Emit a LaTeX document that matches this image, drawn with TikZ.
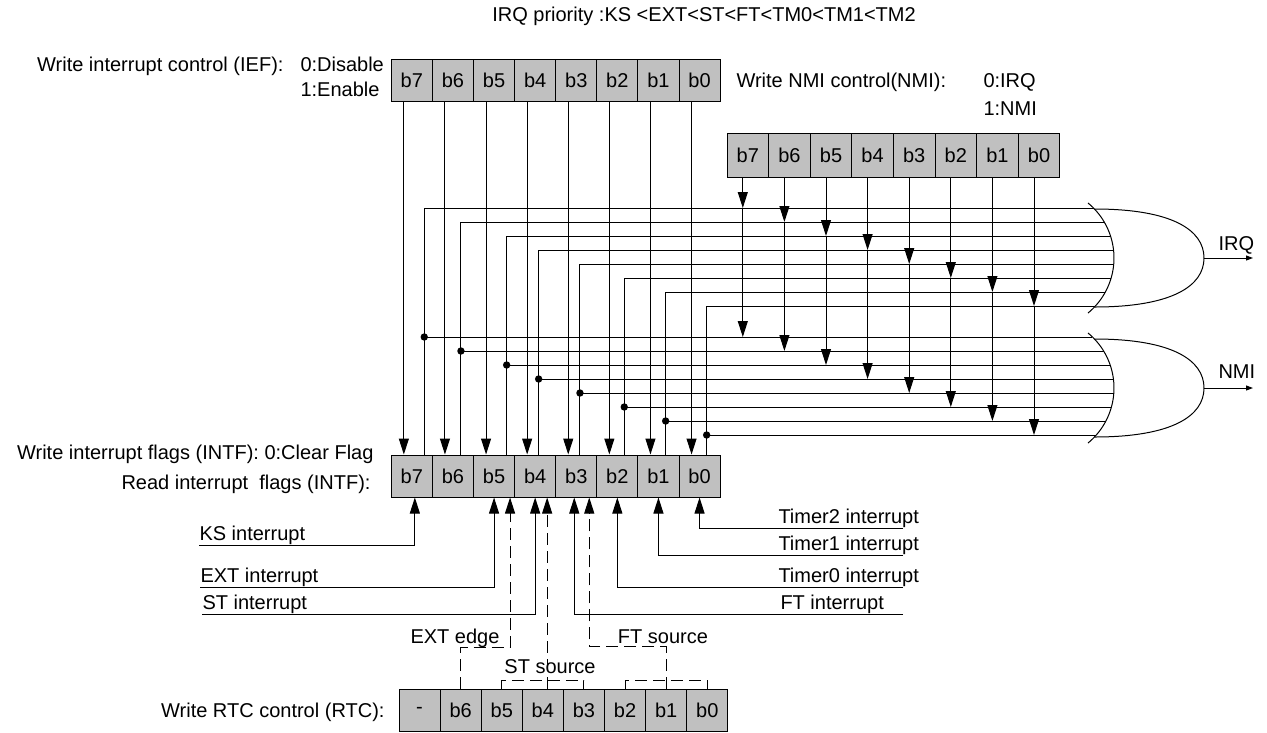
\documentclass[tikz,border=0pt]{standalone}
\usepackage{fontspec}
\setmainfont{Liberation Sans}
\usetikzlibrary{arrows.meta}
\definecolor{regfill}{RGB}{192,192,192}
\tikzstyle{regcell} = [rectangle, minimum width=41.1pt, minimum height=42pt, inner sep=0pt, text centered, draw=black, fill=regfill]
\tikzstyle{lbl} = [inner sep=0pt]
\tikzstyle{arrow} = [-{Triangle[length=16pt,width=10pt]}]
\tikzstyle{outarrow} = [-{Triangle[length=7pt,width=5pt]}]
\tikzstyle{bracket} = [dash pattern=on 12pt off 6pt]
\tikzstyle{dasharrow} = [arrow, bracket]

\begin{document}
\begin{tikzpicture}[x=1pt, y=-1pt, line width=1pt, font=\fontsize{20}{24}\selectfont]
    \useasboundingbox (0,0) rectangle (1267,732);

    \node (title) [lbl, anchor=base] at (704,21) {IRQ priority :KS <EXT<ST<FT<TM0<TM1<TM2};

    % registers
    \foreach \b [count=\i from 0] in {7,6,5,4,3,2,1,0} {
      \node (ief\b) [regcell] at ({391.3+41.1*(\i+0.5)},80) {b\b};
      \node (intf\b) [regcell] at ({391.3+41.1*(\i+0.5)},476) {b\b};
      \node (nmi\b) [regcell, minimum width=41.6pt, minimum height=44pt] at ({727+41.6*(\i+0.5)},155) {b\b};
    }
    \foreach \b/\t [count=\i from 0] in {7/-,6/b6,5/b5,4/b4,3/b3,2/b2,1/b1,0/b0}
      \node (rtc\b) [regcell] at ({399+41.1*(\i+0.5)},710) {\t};

    \node (ieflbl) [lbl, anchor=base east] at (284,71) {Write interrupt control (IEF):};
    \node (iefdis) [lbl, anchor=base west] at (300,71) {0:Disable};
    \node (iefen) [lbl, anchor=base west] at (300,96) {1:Enable};
    \node (nmilbl) [lbl, anchor=base west] at (736,87) {Write NMI control(NMI):};
    \node (nmiirq) [lbl, anchor=base west] at (983,87) {0:IRQ};
    \node (nminmi) [lbl, anchor=base west] at (983,115) {1:NMI};
    \node (intfw) [lbl, anchor=base east] at (374,459) {Write interrupt flags (INTF): 0:Clear Flag};
    \node (intfr) [lbl, anchor=base east] at (371,489) {Read interrupt\ \ flags (INTF):};
    \node (rtclbl) [lbl, anchor=base east] at (385,717) {Write RTC control (RTC):};

    % OR gates
    \foreach \g/\yc in {irq/258, nmi/388} {
      \draw plot[domain=-50.6:50.6, samples=40, smooth] ({1042.8+71.2*cos(\x)}, {\yc+71.2*sin(\x)});
      \draw (1094.5,\yc-49) .. controls (1172,\yc-49) and (1204,\yc-28) .. (1204,\yc)
            .. controls (1204,\yc+28) and (1172,\yc+49) .. (1094.5,\yc+49);
      \coordinate (\g out) at (1204,\yc);
      \coordinate (\g end) at (1253,\yc);
      \draw [outarrow] (\g out) -- (\g end);
    }
    \node (irq) [lbl, anchor=base west] at (1218,250) {IRQ};
    \node (nmi) [lbl, anchor=base west] at (1218,378) {NMI};

    % enable, flag and NMI select lines
    \foreach \b/\dx [count=\k from 0] in {7/12.4, 6/8, 5/12.6, 4/3.5, 3/3.7, 2/6.9, 1/7.2, 0/7.1} {
      \pgfmathsetmacro\yI{208+14*\k}
      \pgfmathsetmacro\yN{337+14*\k}
      \pgfmathsetmacro\xI{1042.8+sqrt(5069.4-(\yI-258)*(\yI-258))}
      \pgfmathsetmacro\xN{1042.8+sqrt(5069.4-(\yN-388)*(\yN-388))}
      \coordinate (irqin\k) at (\xI,\yI);
      \coordinate (nmiin\k) at (\xN,\yN);
      \coordinate (g\k) at ([xshift=\dx pt]intf\b.north);
      \coordinate (n\k) at ([xshift=-5pt]nmi\b.south);
      \draw [arrow] ([xshift=-8pt]ief\b.south) -- ([xshift=-8pt]intf\b.north);
      \draw (g\k) |- (irqin\k);
      \draw (g\k |- nmiin\k) -- (nmiin\k);
      \fill (g\k |- nmiin\k) circle (3.7pt);
      \draw [arrow] (n\k) -- (n\k |- irqin\k);
      \draw [arrow] (n\k |- irqin\k) -- (n\k |- nmiin\k);
    }

    % interrupt sources
    \node (ks) [lbl, anchor=south west] at (199,545) {KS interrupt};
    \node (ext) [lbl, anchor=south west] at (200,587) {EXT interrupt};
    \node (st) [lbl, anchor=south west] at (202,614) {ST interrupt};
    \node (tm2) [lbl, anchor=south west] at (778,528) {Timer2 interrupt};
    \node (tm1) [lbl, anchor=south west] at (778,555) {Timer1 interrupt};
    \node (tm0) [lbl, anchor=south west] at (778,587) {Timer0 interrupt};
    \node (ft) [lbl, anchor=south west] at (780,614) {FT interrupt};
    \draw [arrow] (ks.south west) -| ([xshift=3pt]intf7.south);
    \draw [arrow] (ext.south west) -| (intf5.south);
    \draw [arrow] (st.south west) -| (intf4.south);
    \draw [arrow] ([xshift=125pt]tm2.south west) -| (intf0.south);
    \draw [arrow] ([xshift=125pt]tm1.south west) -| (intf1.south);
    \draw [arrow] ([xshift=125pt]tm0.south west) -| (intf2.south);
    \draw [arrow] ([xshift=123pt]ft.south west) -| ([xshift=-2pt]intf3.south);

    % RTC control fields
    \node (extedge) [lbl, anchor=base] at (455,643) {EXT edge};
    \node (stsrc) [lbl, anchor=base] at (550,673) {ST source};
    \node (ftsrc) [lbl, anchor=base] at (663,643) {FT source};
    \coordinate (stup) at ([xshift=12pt]intf4.south);
    \draw [dasharrow] (rtc6.north) -- ++(0,-41) -| ([xshift=16pt]intf5.south);
    \draw [dasharrow] (stup |- rtc4.north) -- (stup);
    \draw [bracket] (rtc5.north) -- ++(0,-8) -| (rtc3.north);
    \draw [dasharrow] (rtc1.north) -- ++(0,-42) -| ([xshift=13pt]intf3.south);
    \draw [bracket] (rtc2.north) -- ++(0,-8) -| (rtc0.north);
\end{tikzpicture}
\end{document}
